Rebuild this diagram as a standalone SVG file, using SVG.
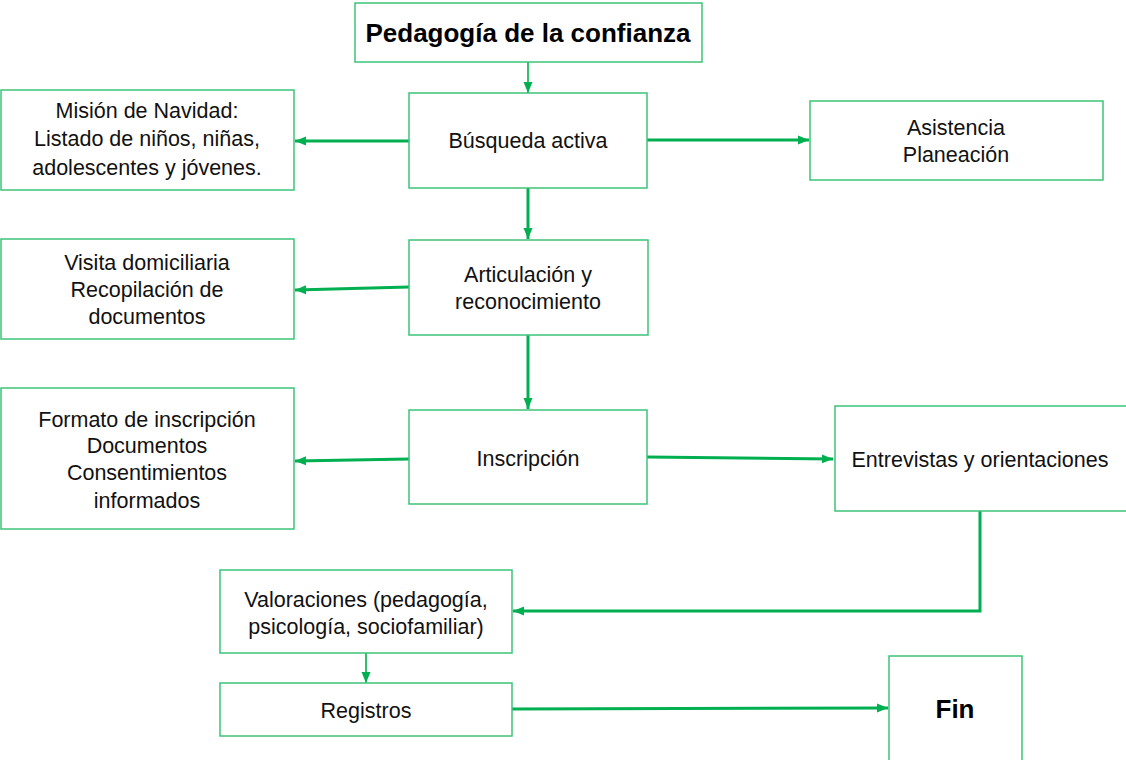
<svg xmlns="http://www.w3.org/2000/svg" width="1126" height="760" viewBox="0 0 1126 760">
<style>
.box{fill:#fff;stroke:#3cc47a;stroke-width:1.5}
.t{font-family:"Liberation Sans",Arial,sans-serif;font-size:21.5px;fill:#111;text-anchor:middle}
.b{font-family:"Liberation Sans",Arial,sans-serif;font-size:26px;font-weight:bold;fill:#000;text-anchor:middle}
.c{fill:none;stroke:#00b050;stroke-width:3}
.thin{stroke-width:1.6}
</style>
<defs>
<marker id="ah" markerUnits="userSpaceOnUse" markerWidth="12" markerHeight="10" refX="11" refY="5" orient="auto">
<path d="M0,0.5 L11,5 L0,9.5 Z" fill="#00b050"/>
</marker>
</defs>
<rect width="1126" height="760" fill="#fff"/>
<g id="connectors">
<path class="c thin" d="M528,62 V93" marker-end="url(#ah)"/>
<path class="c" d="M409,141 H295" marker-end="url(#ah)"/>
<path class="c" d="M647,140 H809" marker-end="url(#ah)"/>
<path class="c" d="M528,188 V239" marker-end="url(#ah)"/>
<path class="c" d="M409,287 L295,290" marker-end="url(#ah)"/>
<path class="c" d="M528,335 V409" marker-end="url(#ah)"/>
<path class="c" d="M409,459 L295,461" marker-end="url(#ah)"/>
<path class="c" d="M647,457 L833,459" marker-end="url(#ah)"/>
<path class="c" d="M980,511 V611 H513" marker-end="url(#ah)"/>
<path class="c thin" d="M366,653 V683" marker-end="url(#ah)"/>
<path class="c" d="M512,709 L888,708" marker-end="url(#ah)"/>
</g>
<g id="n-pedagogia">
<rect class="box" x="355" y="3" width="347" height="59"/>
<text class="b" x="528" y="42">Pedagogía de la confianza</text>
</g>
<g id="n-busqueda">
<rect class="box" x="409" y="93" width="238" height="95"/>
<text class="t" x="528" y="148">Búsqueda activa</text>
</g>
<g id="n-mision">
<rect class="box" x="1" y="90" width="293" height="100"/>
<text class="t" x="147" y="118">Misión de Navidad:</text>
<text class="t" x="147" y="146">Listado de niños, niñas,</text>
<text class="t" x="147" y="175">adolescentes y jóvenes.</text>
</g>
<g id="n-asistencia">
<rect class="box" x="810" y="101" width="293" height="79"/>
<text class="t" x="956" y="135">Asistencia</text>
<text class="t" x="956" y="162">Planeación</text>
</g>
<g id="n-articulacion">
<rect class="box" x="409" y="240" width="239" height="95"/>
<text class="t" x="528" y="282">Articulación y</text>
<text class="t" x="528" y="309">reconocimiento</text>
</g>
<g id="n-visita">
<rect class="box" x="1" y="239" width="293" height="100"/>
<text class="t" x="147" y="270">Visita domiciliaria</text>
<text class="t" x="147" y="297">Recopilación de</text>
<text class="t" x="147" y="324">documentos</text>
</g>
<g id="n-inscripcion">
<rect class="box" x="409" y="410" width="238" height="94"/>
<text class="t" x="528" y="466">Inscripción</text>
</g>
<g id="n-formato">
<rect class="box" x="1" y="388" width="293" height="141"/>
<text class="t" x="147" y="427">Formato de inscripción</text>
<text class="t" x="147" y="453">Documentos</text>
<text class="t" x="147" y="480">Consentimientos</text>
<text class="t" x="147" y="508">informados</text>
</g>
<g id="n-entrevistas">
<rect class="box" x="835" y="406" width="295" height="105"/>
<text class="t" x="980" y="467">Entrevistas y orientaciones</text>
</g>
<g id="n-valoraciones">
<rect class="box" x="220" y="570" width="292" height="83"/>
<text class="t" x="366" y="607">Valoraciones (pedagogía,</text>
<text class="t" x="366" y="634">psicología, sociofamiliar)</text>
</g>
<g id="n-registros">
<rect class="box" x="220" y="683" width="292" height="53"/>
<text class="t" x="366" y="718">Registros</text>
</g>
<g id="n-fin">
<rect class="box" x="889" y="656" width="133" height="108"/>
<text class="b" x="955" y="718">Fin</text>
</g>
</svg>
